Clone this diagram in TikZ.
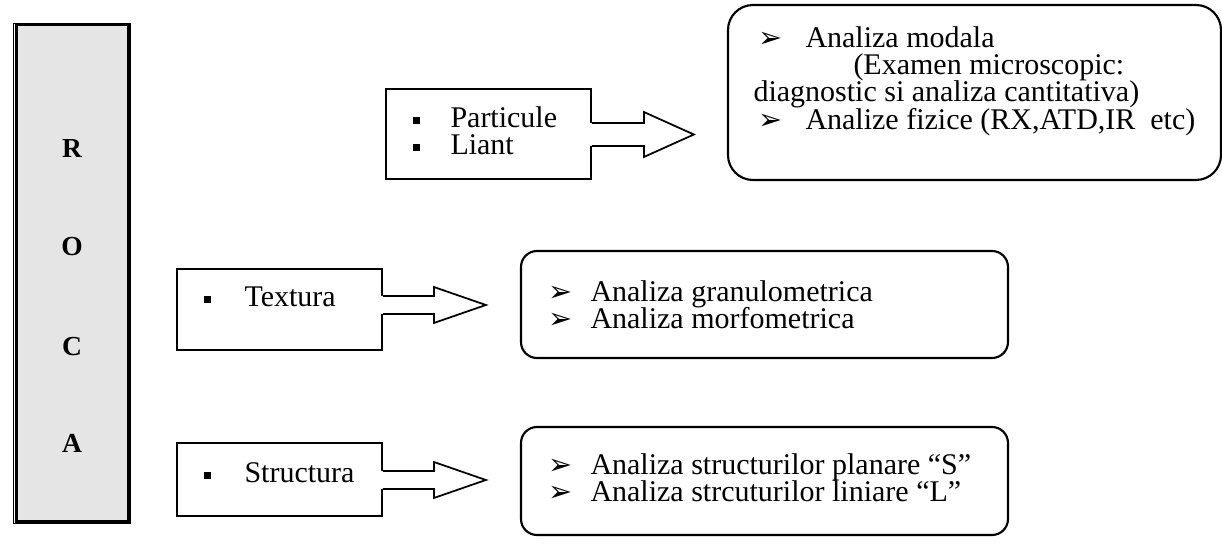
\documentclass[tikz,border=0pt]{standalone}
\usepackage{fontspec}
\setmainfont{Liberation Serif}
\newfontfamily\dejavu{DejaVu Sans}
\usetikzlibrary{calc}
\newcommand\sqb{\rule[1.4pt]{2.8pt}{2.8pt}}
\newcommand\arb{{\dejavu\fontsize{11.5}{11.5}\selectfont ➢}}
\newcommand\barrow[6]{%
  \fill[white] ($(#1.east)+(-2,#2-#3)$) -- ($(#1.east)+(#5,#2-#3)$) -- ($(#1.east)+(#5,#2-#4)$) -- ($(#1.east)+(#5+#6,#2)$) -- ($(#1.east)+(#5,#2+#4)$) -- ($(#1.east)+(#5,#2+#3)$) -- ($(#1.east)+(-2,#2+#3)$) -- cycle;
  \draw[conn] ($(#1.east)+(0,#2-#3)$) -- ($(#1.east)+(#5,#2-#3)$) -- ($(#1.east)+(#5,#2-#4)$) -- ($(#1.east)+(#5+#6,#2)$) -- ($(#1.east)+(#5,#2+#4)$) -- ($(#1.east)+(#5,#2+#3)$) -- ($(#1.east)+(0,#2+#3)$);
}
\begin{document}
\begin{tikzpicture}[x=0.4pt,y=-0.4pt,
  sqbox/.style={draw, line width=0.7pt, rectangle, inner sep=0pt},
  rbox/.style={draw, line width=0.85pt, rectangle, inner sep=0pt},
  conn/.style={line width=0.7pt, line join=miter},
  txt/.style={anchor=base west, inner sep=0pt, font=\fontsize{12}{13}\selectfont},
  letter/.style={inner sep=0pt, font=\fontsize{11}{11}\selectfont\bfseries}]
\useasboundingbox (0,0) rectangle (1222,545);
% ROCA column
\fill[black!10] (16.5,25) rectangle (128.5,521.5);
\draw[line width=0.35pt] (13,23.5) rectangle (130.5,523.5);
\draw[line width=1.1pt] (16.5,25) rectangle (128.5,521.5);
\node[letter] (lr) at (72,148) {R};
\node[letter] (lo) at (72,247) {O};
\node[letter] (lc) at (72,347) {C};
\node[letter] (la) at (72,443) {A};
% left boxes
\node[sqbox, minimum width=82pt, minimum height=36pt] (b1) at (488.5,134) {};
\node[sqbox, minimum width=82pt, minimum height=32.4pt] (b2) at (279.5,309.5) {};
\node[sqbox, minimum width=82pt, minimum height=29.2pt] (b3) at (279.5,479.5) {};
% right boxes
\node[rbox, rounded corners=10pt, minimum width=197.2pt, minimum height=70pt] (r1) at (974.5,92.5) {};
\node[rbox, rounded corners=6.4pt, minimum width=194.8pt, minimum height=42.8pt] (r2) at (764.5,304.5) {};
\node[rbox, rounded corners=6.4pt, minimum width=194.8pt, minimum height=43.2pt] (r3) at (764.5,481) {};
% block arrows
\barrow{b1}{0.5}{11.5}{22.5}{52}{50}
\barrow{b2}{-4.5}{9}{18}{51}{52}
\barrow{b3}{0.5}{9}{18}{51}{52}
% texts of left boxes
\node[txt] (t1a) at (412,128) {\makebox[15.2pt][l]{\sqb}Particule};
\node[txt] (t1b) at (412,155) {\makebox[15.2pt][l]{\sqb}Liant};
\node[txt] (t2) at (203,307) {\makebox[16.4pt][l]{\sqb}Textura};
\node[txt] (t3) at (203,483) {\makebox[16.4pt][l]{\sqb}Structura};
% texts of right boxes
\node[txt] (u1) at (758,48) {\makebox[18.8pt][l]{\arb}Analiza modala};
\node[txt] (u2) at (853,75) {(Examen microscopic:};
\node[txt] (u3) at (753,102) {diagnostic si analiza cantitativa)};
\node[txt] (u4) at (758,130) {\makebox[18.8pt][l]{\arb}Analize fizice (RX,ATD,IR\ \ etc)};
\node[txt] (v1) at (548,302) {\makebox[16.8pt][l]{\arb}Analiza granulometrica};
\node[txt] (v2) at (548,329) {\makebox[16.8pt][l]{\arb}Analiza morfometrica};
\node[txt] (w1) at (548,475) {\makebox[16.8pt][l]{\arb}Analiza structurilor planare “S”};
\node[txt] (w2) at (548,502) {\makebox[16.8pt][l]{\arb}Analiza strcuturilor liniare “L”};
\end{tikzpicture}
\end{document}
